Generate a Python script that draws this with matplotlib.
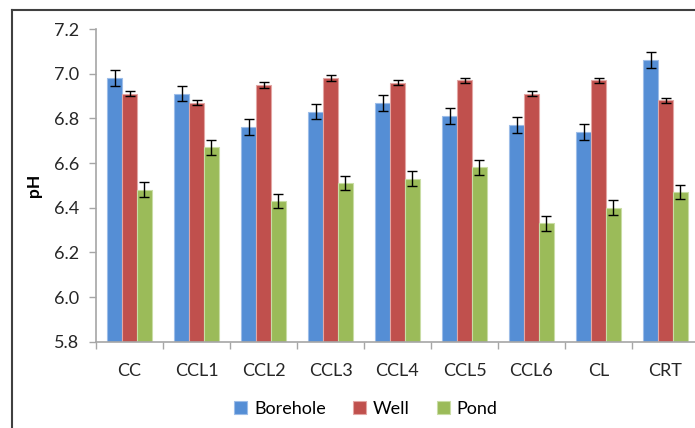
import numpy as np
import matplotlib
matplotlib.use("Agg")
import matplotlib.pyplot as plt
from matplotlib.lines import Line2D

plt.rcParams["font.family"] = ["Lato", "DejaVu Sans"]

# --- data ---
sites = ["CC", "CCL1", "CCL2", "CCL3", "CCL4", "CCL5", "CCL6", "CL", "CRT"]
borehole = [6.98, 6.91, 6.76, 6.83, 6.87, 6.81, 6.77, 6.74, 7.06]
well     = [6.91, 6.87, 6.95, 6.98, 6.96, 6.97, 6.91, 6.97, 6.88]
pond     = [6.48, 6.67, 6.43, 6.51, 6.53, 6.58, 6.33, 6.40, 6.47]
borehole_err = [0.035, 0.033, 0.035, 0.035, 0.035, 0.035, 0.035, 0.035, 0.035]
well_err     = [0.012, 0.012, 0.012, 0.012, 0.012, 0.012, 0.012, 0.012, 0.012]
pond_err     = [0.033, 0.033, 0.033, 0.033, 0.033, 0.033, 0.033, 0.033, 0.033]

series = [("Borehole", borehole, borehole_err, "#558ED5", "#9DBDE8"),
          ("Well", well, well_err, "#C0504D", "#E3A6A4"),
          ("Pond", pond, pond_err, "#9BBB59", "#C9DDA5")]

fig = plt.figure(figsize=(6.95, 4.28), dpi=100)
ax = fig.add_axes([96 / 695, 1 - 341.7 / 428, 603 / 695, (341.7 - 29) / 428])

x = np.arange(len(sites))
width = 0.22
for i, (name, vals, err, col, edge) in enumerate(series):
    ax.bar(x + (i - 1) * width, np.array(vals) - 5.8, width, bottom=5.8,
           color=col, edgecolor=edge, linewidth=0.8, label=name, zorder=2)
    ax.errorbar(x + (i - 1) * width, vals, yerr=err, fmt="none",
                ecolor="black", elinewidth=1.0, capsize=3.5, capthick=1.0, zorder=3)

ax.set_xlim(-0.5, len(sites) - 0.5)
ax.set_ylim(5.8, 7.2)
ax.set_yticks(np.arange(5.8, 7.21, 0.2))
ax.set_yticklabels([f"{v:.1f}" for v in np.arange(5.8, 7.21, 0.2)])
ax.set_xticks(x)
ax.set_xticklabels(sites)
ax.set_xticks(np.arange(-0.5, len(sites), 1.0), minor=True)
ax.tick_params(axis="x", which="major", length=0, pad=15)
ax.tick_params(axis="x", which="minor", length=5, color="#A6A6A6", width=1)
ax.tick_params(axis="y", length=5, color="#A6A6A6", width=1, pad=7)
ax.tick_params(labelsize=13, labelcolor="#262626")

for s in ["top", "right"]:
    ax.spines[s].set_visible(False)
for s in ["left", "bottom"]:
    ax.spines[s].set_color("#A6A6A6")
    ax.spines[s].set_linewidth(1.2)

ax.set_ylabel("pH", fontsize=12.5, fontweight="bold", labelpad=9)

handles, labels = ax.get_legend_handles_labels()
fig.legend(handles, labels, loc="center", bbox_to_anchor=(366 / 695, 1 - 409 / 428),
           ncol=3, frameon=False, fontsize=13, handlelength=0.7, handleheight=0.7,
           handletextpad=0.4, columnspacing=1.5)

# outer chart frame (cropped on the right and bottom)
fig.add_artist(Line2D([11.5 / 695, 11.5 / 695], [0, 1 - 9.5 / 428],
                      transform=fig.transFigure, color="#404040", linewidth=1.5))
fig.add_artist(Line2D([11.5 / 695, 1], [1 - 9.5 / 428, 1 - 9.5 / 428],
                      transform=fig.transFigure, color="#404040", linewidth=1.5))

fig.savefig("out.png", dpi=100)
